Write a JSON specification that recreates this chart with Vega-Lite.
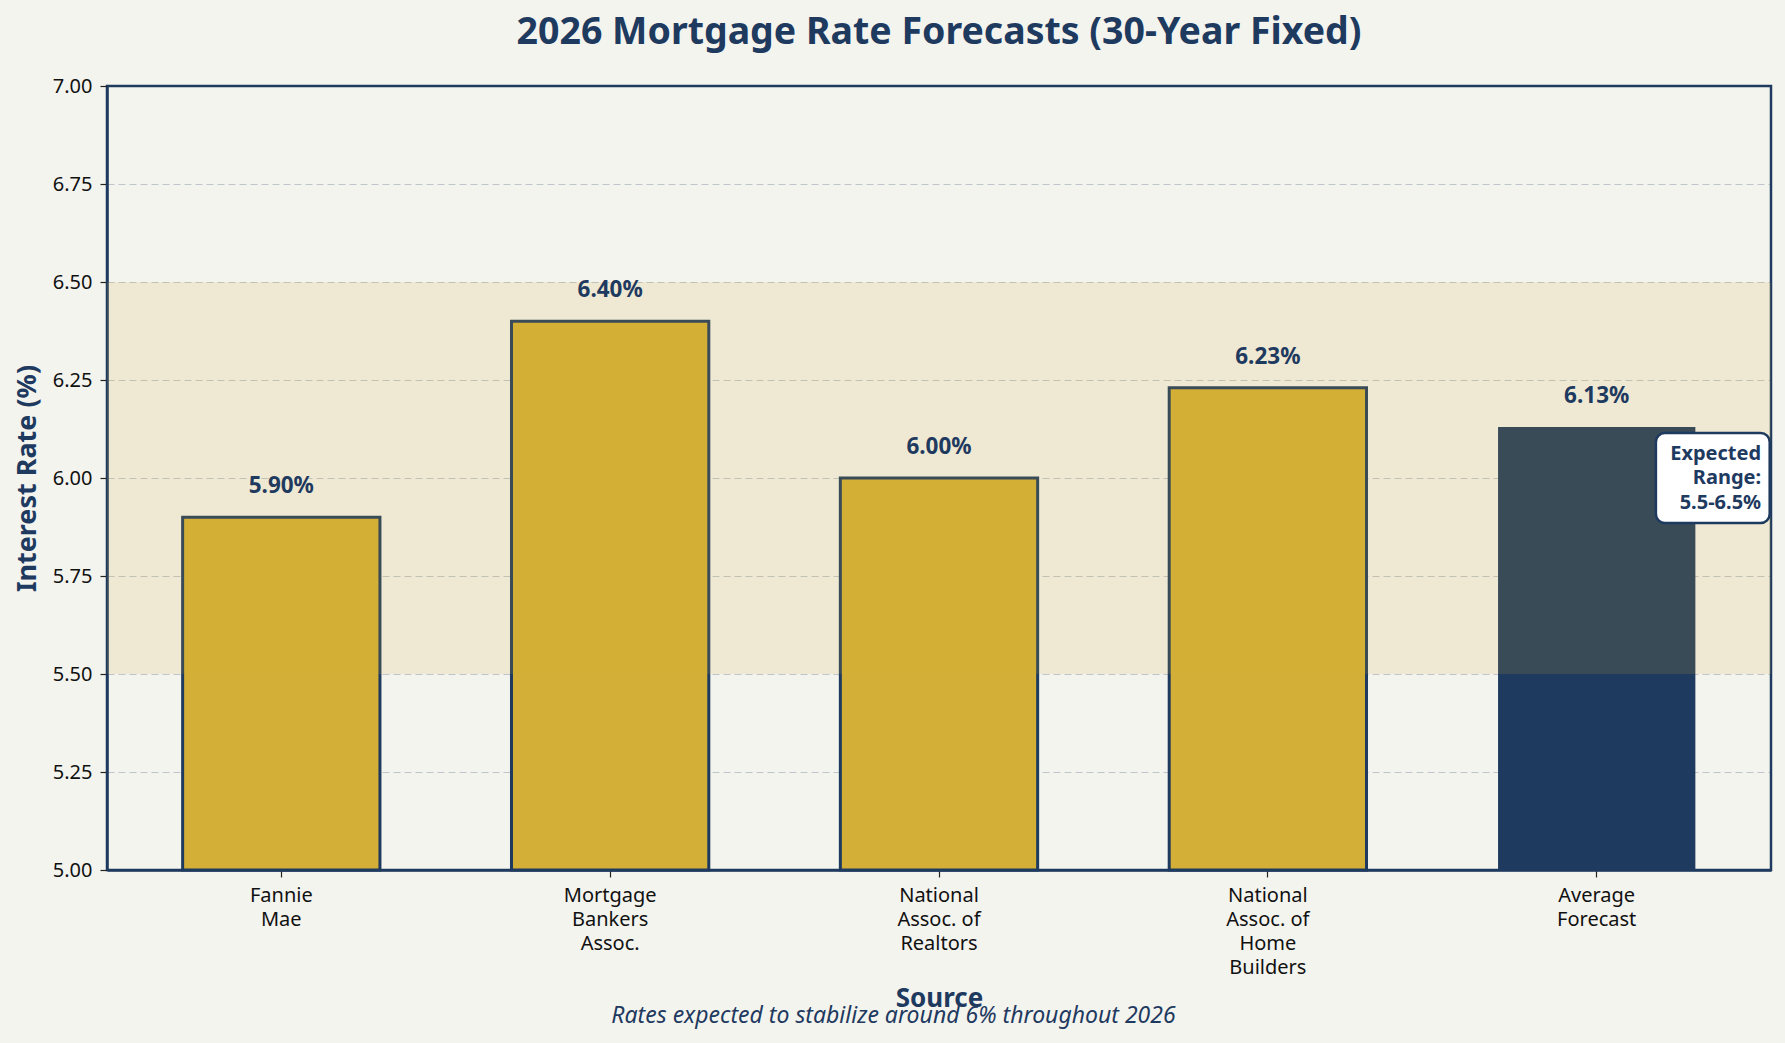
{
  "$schema": "https://vega.github.io/schema/vega-lite/v6.json",
  "width": 1664,
  "height": 784,
  "autosize": {"type": "none"},
  "padding": {"left": 107, "top": 86, "right": 14, "bottom": 173},
  "background": "#f4f4ef",
  "config": {
    "font": "Noto Sans",
    "view": {"stroke": "#1f3a5f", "strokeWidth": 2.5, "fill": "#f4f4ef"},
    "axis": {
      "labelFont": "Noto Sans",
      "labelFontSize": 20,
      "labelColor": "#111111",
      "titleFont": "Noto Sans",
      "titleFontSize": 26,
      "titleFontWeight": "bold",
      "titleColor": "#1f3a5f",
      "domainColor": "#1f3a5f",
      "domainWidth": 2.5,
      "tickColor": "#222222",
      "tickSize": 7,
      "tickWidth": 1.2
    }
  },
  "title": {
    "text": "2026 Mortgage Rate Forecasts (30-Year Fixed)",
    "fontSize": 37.5,
    "fontWeight": "bold",
    "color": "#1f3a5f",
    "anchor": "middle",
    "offset": 25
  },
  "resolve": {"scale": {"x": "independent"}},
  "layer": [
    {
      "data": {
        "values": [
          {"source": "Fannie|Mae", "rate": 5.90},
          {"source": "Mortgage|Bankers|Assoc.", "rate": 6.40},
          {"source": "National|Assoc. of|Realtors", "rate": 6.00},
          {"source": "National|Assoc. of|Home|Builders", "rate": 6.23},
          {"source": "Average|Forecast", "rate": 6.13}
        ]
      },
      "layer": [
        {
          "mark": {"type": "bar", "stroke": "#1f3a5f"},
          "encoding": {
            "x": {
              "field": "source",
              "type": "nominal",
              "sort": null,
              "scale": {"paddingInner": 0.4, "paddingOuter": 0.23},
              "axis": {
                "title": "Source",
                "labelAngle": 0,
                "labelExpr": "split(datum.label, '|')",
                "labelLineHeight": 24,
                "labelPadding": 8,
                "labelBaseline": "top",
                "titleY": 128,
                "titleBaseline": "middle"
              }
            },
            "y": {
              "field": "rate",
              "type": "quantitative",
              "scale": {"domain": [5, 7], "zero": false, "nice": false},
              "axis": {
                "title": "Interest Rate (%)",
                "values": [5, 5.25, 5.5, 5.75, 6, 6.25, 6.5, 6.75, 7],
                "format": ".2f",
                "labelPadding": 8,
                "grid": true,
                "gridColor": "#1f3a5f",
                "gridOpacity": 0.25,
                "gridDash": [7, 4],
                "gridWidth": 1.2,
                "titleFontSize": 27,
                "titleX": -80,
                "titleY": 392,
                "titleBaseline": "middle"
              }
            },
            "y2": {"datum": 5},
            "fill": {
              "condition": {"test": "datum.source == 'Average|Forecast'", "value": "#1f3a5f"},
              "value": "#d4af37"
            },
            "strokeWidth": {
              "condition": {"test": "datum.source == 'Average|Forecast'", "value": 0},
              "value": 3
            }
          }
        },
        {
          "data": {"values": [{}]},
          "mark": {"type": "rect", "fill": "#d4af37", "opacity": 0.15},
          "encoding": {
            "y": {"datum": 5.5, "type": "quantitative", "scale": {"domain": [5, 7]}},
            "y2": {"datum": 6.5}
          }
        },
        {
          "transform": [{"calculate": "format(datum.rate, '.2f') + '%'", "as": "label"}],
          "mark": {
            "type": "text",
            "font": "Noto Sans",
            "fontSize": 22.5,
            "fontWeight": "bold",
            "color": "#1f3a5f",
            "baseline": "alphabetic",
            "dy": -24
          },
          "encoding": {
            "x": {"field": "source", "type": "nominal", "sort": null},
            "y": {"field": "rate", "type": "quantitative", "scale": {"domain": [5, 7]}},
            "text": {"field": "label"}
          }
        }
      ]
    },
    {
      "data": {"values": [{}]},
      "layer": [
        {
          "mark": {
            "type": "rect",
            "fill": "#ffffff",
            "stroke": "#1f3a5f",
            "strokeWidth": 2.5,
            "cornerRadius": 9
          },
          "encoding": {
            "x": {
              "datum": 4.18,
              "type": "quantitative",
              "scale": {"domain": [-0.53, 4.53], "nice": false, "zero": false},
              "axis": {
                "orient": "bottom",
                "labels": false,
                "ticks": false,
                "domain": false,
                "grid": false,
                "title": "Rates expected to stabilize around 6% throughout 2026",
                "titleFontStyle": "italic",
                "titleFontWeight": "normal",
                "titleFontSize": 23,
                "titleColor": "#1f3a5f",
                "titleX": 786,
                "titleAlign": "center",
                "titleY": 145,
                "titleBaseline": "middle"
              }
            },
            "x2": {"datum": 4.526},
            "y": {"datum": 5.885, "type": "quantitative", "scale": {"domain": [5, 7]}},
            "y2": {"datum": 6.115}
          }
        },
        {
          "mark": {
            "type": "text",
            "font": "Noto Sans",
            "fontSize": 20,
            "fontWeight": "bold",
            "color": "#1f3a5f",
            "align": "right",
            "baseline": "middle",
            "lineHeight": 24.5,
            "dy": -24.5
          },
          "encoding": {
            "x": {"datum": 4.5, "type": "quantitative"},
            "y": {"datum": 6.0, "type": "quantitative", "scale": {"domain": [5, 7]}},
            "text": {"value": ["Expected", "Range:", "5.5-6.5%"]}
          }
        }
      ]
    }
  ]
}
